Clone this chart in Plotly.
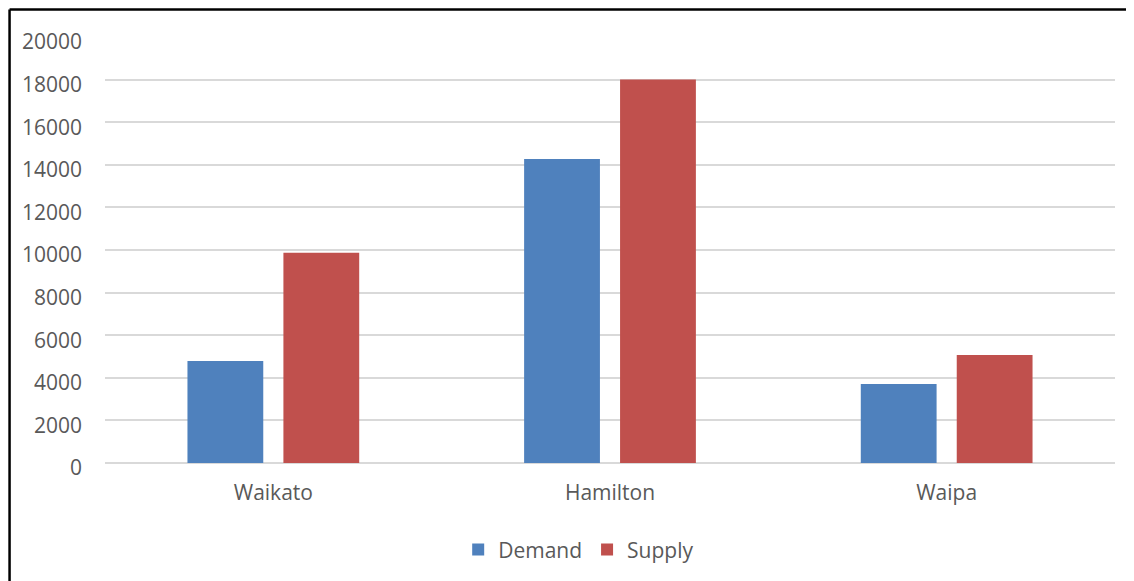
import plotly.graph_objects as go

categories = ["Waikato", "Hamilton", "Waipa"]
demand = [4790, 14270, 3710]
supply = [9870, 18000, 5070]
y_ticks = [0, 2000, 4000, 6000, 8000, 10000, 12000, 14000, 16000, 18000, 20000]

FONT = "Open Sans"
GREY = "#595959"

fig = go.Figure()
fig.add_trace(go.Bar(name="Demand", x=categories, y=demand, marker=dict(color="#4F81BD", line=dict(width=0))))
fig.add_trace(go.Bar(name="Supply", x=categories, y=supply, marker=dict(color="#C0504D", line=dict(width=0))))

fig.update_layout(
    width=1126, height=573,
    margin=dict(l=97, r=19, t=29, b=118, autoexpand=False),
    paper_bgcolor="white", plot_bgcolor="white",
    barmode="group", bargap=0.43, bargroupgap=0.21,
    font=dict(family=FONT, size=21, color=GREY),
    showlegend=True,
    legend=dict(orientation="h", x=0.469, xanchor="center", y=-0.204, yanchor="middle",
                font=dict(family=FONT, size=21, color=GREY), itemwidth=30),
    xaxis=dict(showgrid=False, showline=False, ticks="", tickfont=dict(size=21, color=GREY),
               ticklabelstandoff=15, automargin=False),
    yaxis=dict(range=[0, 20000], tickvals=y_ticks, ticktext=[str(v) for v in y_ticks],
               showgrid=True, gridcolor="#d9d9d9", gridwidth=2,
               zeroline=True, zerolinecolor="#d9d9d9", zerolinewidth=2,
               showline=False, ticks="", tickfont=dict(size=21, color=GREY),
               ticklabelstandoff=22, ticklabelshift=5, automargin=False),
    shapes=[
        dict(type="line", xref="paper", yref="paper", x0=-0.0945, x1=-0.0945, y0=1.0646, y1=-0.6,
             line=dict(color="black", width=2.5)),
        dict(type="line", xref="paper", yref="paper", x0=-0.0945, x1=1.1, y0=1.0646, y1=1.0646,
             line=dict(color="black", width=2.5)),
    ],
)

fig.write_html("out.html")
